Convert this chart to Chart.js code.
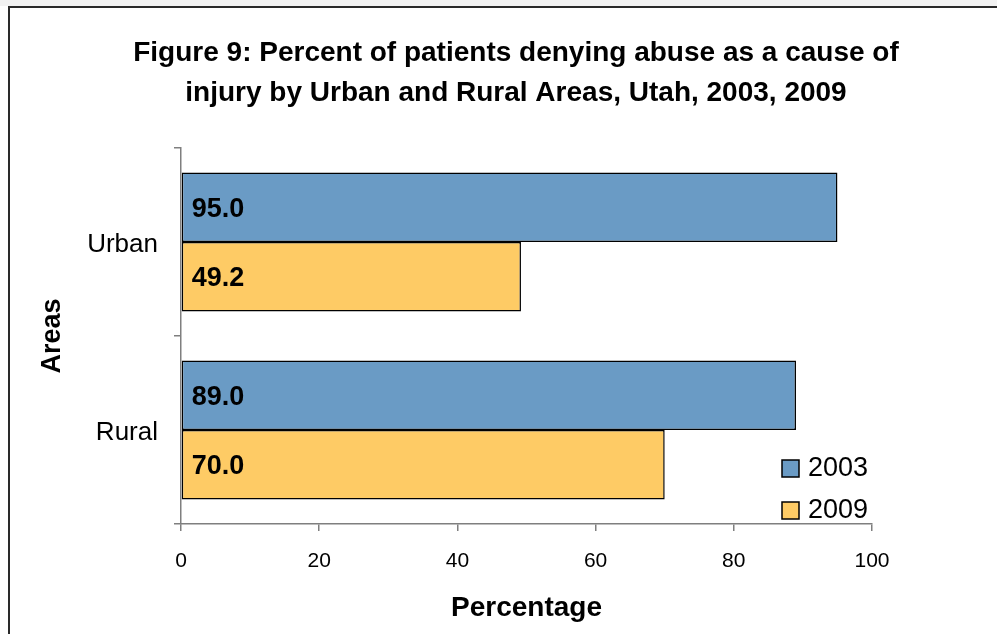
<!DOCTYPE html>
<html>
<head>
<meta charset="utf-8">
<script src="https://cdn.jsdelivr.net/npm/chart.js@4/dist/chart.umd.min.js"></script>
<style>
html,body{margin:0;padding:0;background:#fff;}
canvas{display:block;}
</style>
</head>
<body>
<canvas id="c" width="997" height="634"></canvas>
<script>
const categories = ["Urban", "Rural"];
const seriesNames = ["2003", "2009"];
const values2003 = [95.0, 89.0];
const values2009 = [49.2, 70.0];
const xTicks = [0, 20, 40, 60, 80, 100];
const titleLines = ["Figure 9: Percent of patients denying abuse as a cause of", "injury by Urban and Rural Areas, Utah, 2003, 2009"];

const FONT = "'Liberation Sans', Arial, sans-serif";
const blue = "#6A9BC5";
const yellow = "#FECB65";

const framePlugin = {
  id: 'frame',
  beforeDraw(chart) {
    const ctx = chart.ctx;
    ctx.save();
    ctx.fillStyle = '#fff';
    ctx.fillRect(0, 0, chart.width, chart.height);
    ctx.fillStyle = '#f2f2f2';
    ctx.fillRect(0, 0, chart.width, 6);
    ctx.fillStyle = '#2a2a2a';
    ctx.fillRect(8, 6, chart.width - 8, 2);
    ctx.fillRect(8, 6, 2, chart.height - 6);
    ctx.restore();
  }
};

const titlePlugin = {
  id: 'customTitle',
  afterDraw(chart) {
    const ctx = chart.ctx;
    ctx.save();
    ctx.font = "bold 28px " + FONT;
    ctx.fillStyle = '#000';
    ctx.textAlign = 'center';
    ctx.textBaseline = 'middle';
    titleLines.forEach((t, i) => ctx.fillText(t, 516, 53 + i * 40));
    ctx.restore();
  }
};

const valueLabels = {
  id: 'valueLabels',
  afterDatasetsDraw(chart) {
    const ctx = chart.ctx;
    ctx.save();
    ctx.font = "bold 27px " + FONT;
    ctx.fillStyle = '#000';
    ctx.textAlign = 'left';
    ctx.textBaseline = 'middle';
    chart.data.datasets.forEach((ds, di) => {
      chart.getDatasetMeta(di).data.forEach((bar, i) => {
        ctx.fillText(ds.data[i].toFixed(1), bar.base + 10, bar.y + 2);
      });
    });
    ctx.restore();
  }
};

const insideLegend = {
  id: 'insideLegend',
  afterDraw(chart) {
    const ctx = chart.ctx;
    const a = chart.chartArea;
    ctx.save();
    ctx.font = "27px " + FONT;
    ctx.textBaseline = 'middle';
    ctx.textAlign = 'left';
    chart.data.datasets.forEach((ds, i) => {
      const cy = a.bottom - 56 + i * 42;
      const bx = a.right - 90;
      ctx.fillStyle = ds.backgroundColor;
      ctx.fillRect(bx, cy - 8, 17, 17);
      ctx.strokeStyle = '#000';
      ctx.lineWidth = 1.5;
      ctx.strokeRect(bx, cy - 8, 17, 17);
      ctx.fillStyle = '#000';
      ctx.fillText(ds.label, bx + 26, cy + 1);
    });
    ctx.restore();
  }
};

new Chart(document.getElementById('c'), {
  type: 'bar',
  data: {
    labels: categories,
    datasets: [
      { label: seriesNames[0], data: values2003, backgroundColor: blue, borderColor: '#000', borderWidth: 1.5, borderSkipped: false },
      { label: seriesNames[1], data: values2009, backgroundColor: yellow, borderColor: '#000', borderWidth: 1.5, borderSkipped: false }
    ]
  },
  options: {
    indexAxis: 'y',
    responsive: false,
    animation: false,
    devicePixelRatio: 1,
    categoryPercentage: 0.74,
    barPercentage: 1.0,
    layout: { padding: { left: 36, right: 125, top: 148, bottom: 5 } },
    plugins: {
      legend: { display: false },
      tooltip: { enabled: false },
      title: { display: false }
    },
    scales: {
      x: {
        type: 'linear',
        min: 0, max: 100,
        afterBuildTicks(s) { s.ticks = xTicks.map(v => ({ value: v })); },
        afterFit(s) { s.height = 105; },
        border: { color: '#7f7f7f', width: 1.5 },
        grid: { drawOnChartArea: false, drawTicks: true, tickLength: 7, color: '#7f7f7f', lineWidth: 1.5 },
        ticks: { color: '#000', font: { family: FONT, size: 21 }, padding: 18 },
        title: { display: true, text: 'Percentage', color: '#000', font: { family: FONT, size: 28, weight: 'bold' }, padding: { top: 3, bottom: 4 } }
      },
      y: {
        type: 'category',
        afterFit(s) { s.width = 145; },
        border: { color: '#7f7f7f', width: 1.5 },
        grid: { offset: true, drawOnChartArea: false, drawTicks: true, tickLength: 7, color: '#7f7f7f', lineWidth: 1.5 },
        ticks: { color: '#000', font: { family: FONT, size: 26 }, padding: 16, labelOffset: 3 },
        title: { display: true, text: 'Areas', color: '#000', font: { family: FONT, size: 27, weight: 'bold' }, padding: { top: 0, bottom: 0 } }
      }
    }
  },
  plugins: [framePlugin, valueLabels, insideLegend, titlePlugin]
});
</script>
</body>
</html>
